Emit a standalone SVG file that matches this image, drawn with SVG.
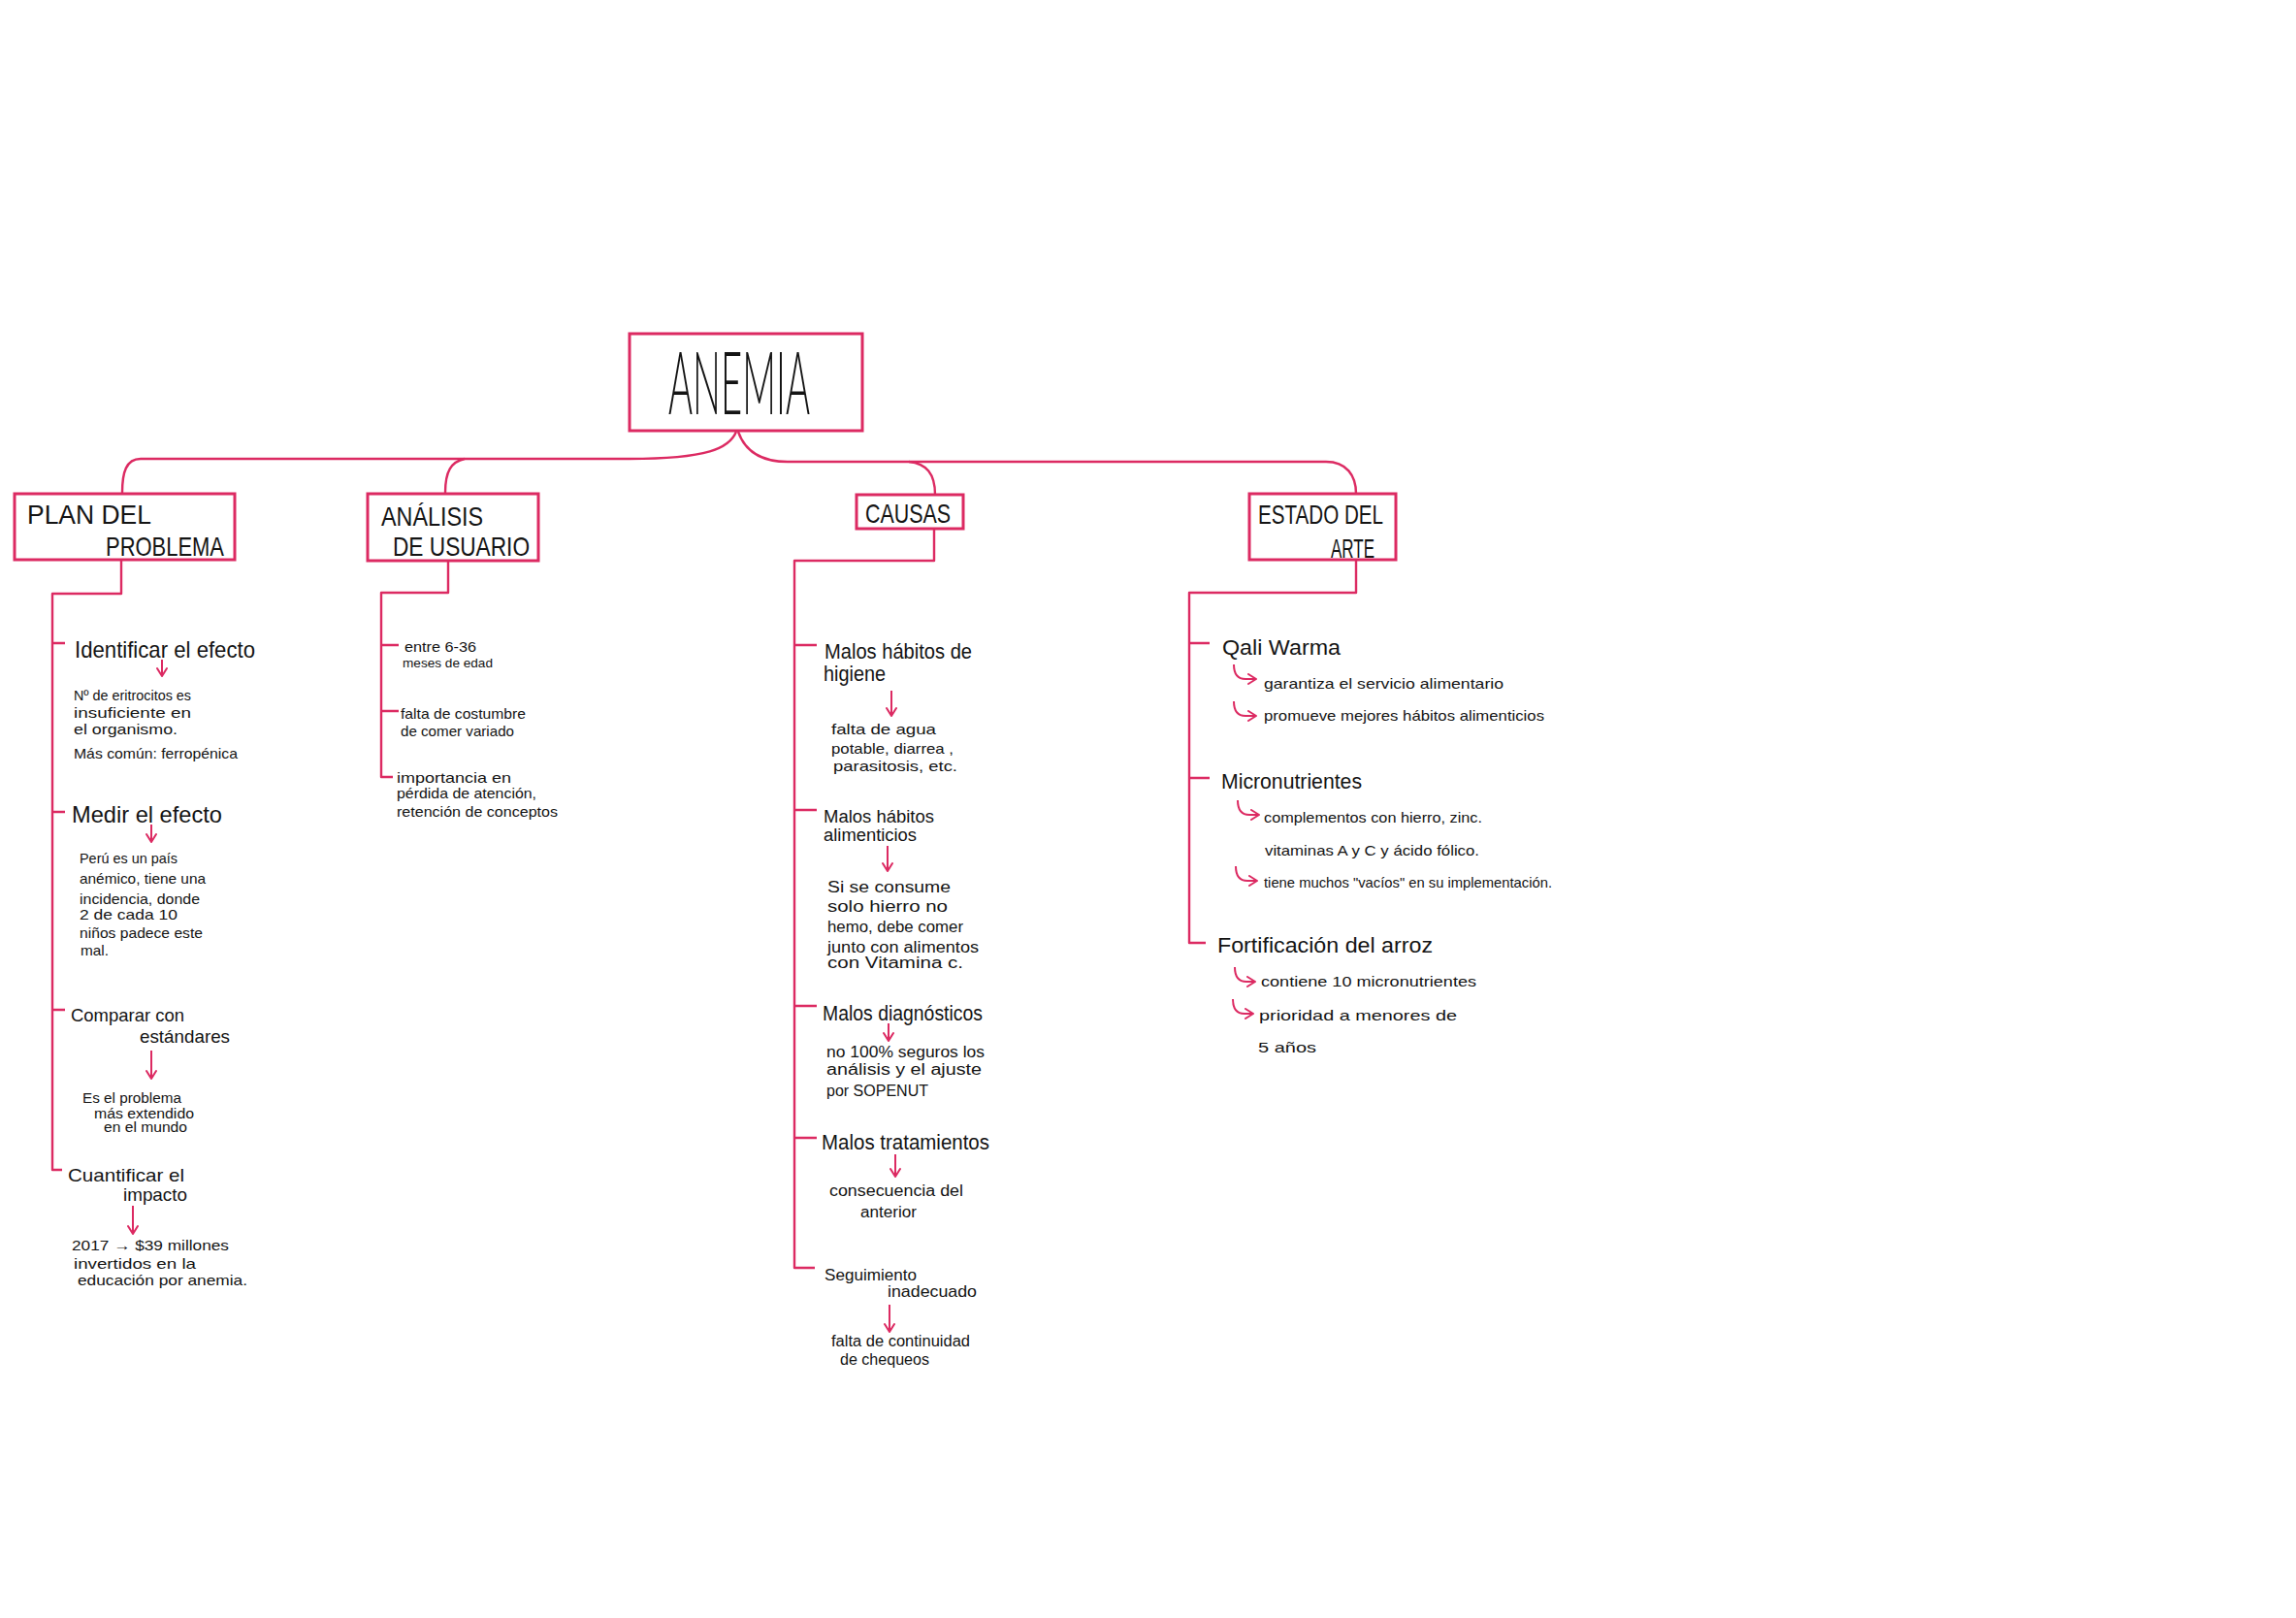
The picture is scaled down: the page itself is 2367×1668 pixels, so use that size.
<svg xmlns="http://www.w3.org/2000/svg" width="2367" height="1668" viewBox="0 0 2367 1668">
<defs>
<marker id="ah" viewBox="0 0 12 12" refX="10" refY="6" markerWidth="12" markerHeight="12" markerUnits="userSpaceOnUse" orient="auto">
<path d="M2,1 L10,6 L2,11" fill="none" stroke="#dc2a62" stroke-width="2" stroke-linecap="round" stroke-linejoin="round"/>
</marker>
<style>
.box{fill:#fff;stroke:#dc2a62;stroke-width:3}
.ln{fill:none;stroke:#dc2a62;stroke-width:2.4;stroke-linejoin:round}
.ar{fill:none;stroke:#dc2a62;stroke-width:2;marker-end:url(#ah)}
text{font-family:"Liberation Sans","DejaVu Sans",sans-serif;fill:#141414}
.t0{font-size:90px;font-family:Lato,"Open Sans","Liberation Sans",sans-serif;font-weight:300}
.t1{font-size:28px}
.t2{font-size:24px}
.t2s{font-size:19px}
.t2b{font-size:22px}
.t2c{font-size:18px}
.t3{font-size:15px}
.t3b{font-size:16px}
</style>
</defs>
<rect width="2367" height="1668" fill="#fff"/>

<g id="connectors">
<path class="ln" d="M759,445 C752,462 730,473 649,473 L145,473 C130,473 126,487 126,508"/>
<path class="ln" d="M479,473 C465,476 459,486 459,508"/>
<path class="ln" d="M761,445 C768,465 785,476 812,476 L1367,476 C1388,476 1398,490 1398,509"/>
<path class="ln" d="M937,476 C955,478 964,488 964,510"/>
<path class="ln" d="M125,577 V612 H54 V1206 H64 M54,663 H67 M54,837 H67 M54,1041 H67"/>
<path class="ln" d="M462,578 V611 H393 V801 H405 M393,665 H411 M393,733 H411"/>
<path class="ln" d="M963,545 V578 H819 V1307 H840 M819,665 H842 M819,835 H842 M819,1037 H842 M819,1173 H842"/>
<path class="ln" d="M1398,577 V611 H1226 V972 H1243 M1226,663 H1247 M1226,802 H1247"/>
<path class="ar" d="M167,680 V697"/>
<path class="ar" d="M156,850 V868"/>
<path class="ar" d="M156,1083 V1112"/>
<path class="ar" d="M137,1243 V1272"/>
<path class="ar" d="M919,712 V738"/>
<path class="ar" d="M915,872 V898"/>
<path class="ar" d="M916,1055 V1073"/>
<path class="ar" d="M923,1190 V1213"/>
<path class="ar" d="M917,1345 V1373"/>
<path class="ar" d="M1272,685 Q1272,700 1284,700 H1295"/>
<path class="ar" d="M1272,723 Q1272,738 1284,738 H1295"/>
<path class="ar" d="M1276,825 Q1276,840 1288,840 H1298"/>
<path class="ar" d="M1274,893 Q1274,908 1286,908 H1296"/>
<path class="ar" d="M1273,997 Q1273,1012 1285,1012 H1294"/>
<path class="ar" d="M1271,1030 Q1271,1045 1283,1045 H1292"/>
</g>

<g id="anemia">
<rect class="box" x="649" y="344" width="240" height="100"/>
<text class="t0" x="689" y="427" textLength="146" lengthAdjust="spacingAndGlyphs">ANEMIA</text>
</g>

<g id="plan-del-problema">
<rect class="box" x="15" y="509" width="227" height="68"/>
<text class="t1" x="28" y="540" textLength="128" lengthAdjust="spacingAndGlyphs">PLAN DEL</text>
<text class="t1" x="109" y="573" textLength="122" lengthAdjust="spacingAndGlyphs">PROBLEMA</text>
</g>

<g id="analisis-de-usuario">
<rect class="box" x="379" y="509" width="176" height="69"/>
<text class="t1" x="393" y="542" textLength="105" lengthAdjust="spacingAndGlyphs">ANÁLISIS</text>
<text class="t1" x="405" y="573" textLength="141" lengthAdjust="spacingAndGlyphs">DE USUARIO</text>
</g>

<g id="causas">
<rect class="box" x="883" y="510" width="110" height="35"/>
<text class="t1" x="892" y="539" textLength="88" lengthAdjust="spacingAndGlyphs">CAUSAS</text>
</g>

<g id="estado-del-arte">
<rect class="box" x="1288" y="509" width="151" height="68"/>
<text class="t1" x="1297" y="540" textLength="129" lengthAdjust="spacingAndGlyphs">ESTADO DEL</text>
<text class="t1" x="1372" y="575" textLength="45" lengthAdjust="spacingAndGlyphs">ARTE</text>
</g>

<g id="identificar">
<text class="t2" x="77" y="678" textLength="186" lengthAdjust="spacingAndGlyphs">Identificar el efecto</text>
<text class="t3" x="76" y="722" textLength="121" lengthAdjust="spacingAndGlyphs">Nº de eritrocitos es</text>
<text class="t3" x="76" y="740" textLength="121" lengthAdjust="spacingAndGlyphs">insuficiente en</text>
<text class="t3" x="76" y="757" textLength="107" lengthAdjust="spacingAndGlyphs">el organismo.</text>
<text class="t3" x="76" y="782" textLength="169" lengthAdjust="spacingAndGlyphs">Más común: ferropénica</text>
</g>

<g id="medir">
<text class="t2" x="74" y="848" textLength="155" lengthAdjust="spacingAndGlyphs">Medir el efecto</text>
<text class="t3" x="82" y="890" textLength="101" lengthAdjust="spacingAndGlyphs">Perú es un país</text>
<text class="t3" x="82" y="911" textLength="130" lengthAdjust="spacingAndGlyphs">anémico, tiene una</text>
<text class="t3" x="82" y="932" textLength="124" lengthAdjust="spacingAndGlyphs">incidencia, donde</text>
<text class="t3" x="82" y="948" textLength="101" lengthAdjust="spacingAndGlyphs">2 de cada 10</text>
<text class="t3" x="82" y="967" textLength="127" lengthAdjust="spacingAndGlyphs">niños padece este</text>
<text class="t3" x="83" y="985" textLength="29" lengthAdjust="spacingAndGlyphs">mal.</text>
</g>

<g id="comparar">
<text class="t2s" x="73" y="1053" textLength="117" lengthAdjust="spacingAndGlyphs">Comparar con</text>
<text class="t2s" x="144" y="1075" textLength="93" lengthAdjust="spacingAndGlyphs">estándares</text>
<text class="t3" x="85" y="1137" textLength="102" lengthAdjust="spacingAndGlyphs" style="font-size:14px">Es el problema</text>
<text class="t3" x="97" y="1153" textLength="103" lengthAdjust="spacingAndGlyphs" style="font-size:14px">más extendido</text>
<text class="t3" x="107" y="1167" textLength="86" lengthAdjust="spacingAndGlyphs" style="font-size:14px">en el mundo</text>
</g>

<g id="cuantificar">
<text class="t2s" x="70" y="1218" textLength="120" lengthAdjust="spacingAndGlyphs">Cuantificar el</text>
<text class="t2s" x="127" y="1238" textLength="66" lengthAdjust="spacingAndGlyphs">impacto</text>
<text class="t3" x="74" y="1289" textLength="162" lengthAdjust="spacingAndGlyphs">2017 → $39 millones</text>
<text class="t3" x="76" y="1308" textLength="126" lengthAdjust="spacingAndGlyphs">invertidos en la</text>
<text class="t3" x="80" y="1325" textLength="175" lengthAdjust="spacingAndGlyphs">educación por anemia.</text>
</g>

<g id="edad">
<text class="t3" x="417" y="672" textLength="74" lengthAdjust="spacingAndGlyphs">entre 6-36</text>
<text class="t3" x="415" y="688" textLength="93" lengthAdjust="spacingAndGlyphs" style="font-size:13px">meses de edad</text>
</g>
<g id="costumbre">
<text class="t3" x="413" y="741" textLength="129" lengthAdjust="spacingAndGlyphs">falta de costumbre</text>
<text class="t3" x="413" y="759" textLength="117" lengthAdjust="spacingAndGlyphs">de comer variado</text>
</g>
<g id="importancia">
<text class="t3" x="409" y="807" textLength="118" lengthAdjust="spacingAndGlyphs">importancia en</text>
<text class="t3" x="409" y="823" textLength="144" lengthAdjust="spacingAndGlyphs">pérdida de atención,</text>
<text class="t3" x="409" y="842" textLength="166" lengthAdjust="spacingAndGlyphs">retención de conceptos</text>
</g>

<g id="higiene">
<text class="t2b" x="850" y="679" textLength="152" lengthAdjust="spacingAndGlyphs">Malos hábitos de</text>
<text class="t2b" x="849" y="702" textLength="64" lengthAdjust="spacingAndGlyphs">higiene</text>
<text class="t3" x="857" y="757" textLength="108" lengthAdjust="spacingAndGlyphs">falta de agua</text>
<text class="t3" x="857" y="777" textLength="126" lengthAdjust="spacingAndGlyphs">potable, diarrea ,</text>
<text class="t3" x="859" y="795" textLength="128" lengthAdjust="spacingAndGlyphs">parasitosis, etc.</text>
</g>
<g id="alimenticios">
<text class="t2c" x="849" y="848" textLength="114" lengthAdjust="spacingAndGlyphs">Malos hábitos</text>
<text class="t2c" x="849" y="867" textLength="96" lengthAdjust="spacingAndGlyphs">alimenticios</text>
<text class="t3b" x="853" y="920" textLength="127" lengthAdjust="spacingAndGlyphs">Si se consume</text>
<text class="t3b" x="853" y="940" textLength="124" lengthAdjust="spacingAndGlyphs">solo hierro no</text>
<text class="t3b" x="853" y="961" textLength="140" lengthAdjust="spacingAndGlyphs">hemo, debe comer</text>
<text class="t3b" x="853" y="982" textLength="156" lengthAdjust="spacingAndGlyphs">junto con alimentos</text>
<text class="t3b" x="853" y="998" textLength="140" lengthAdjust="spacingAndGlyphs">con Vitamina c.</text>
</g>
<g id="diagnosticos">
<text class="t2b" x="848" y="1052" textLength="165" lengthAdjust="spacingAndGlyphs">Malos diagnósticos</text>
<text class="t3b" x="852" y="1090" textLength="163" lengthAdjust="spacingAndGlyphs">no 100% seguros los</text>
<text class="t3b" x="852" y="1108" textLength="160" lengthAdjust="spacingAndGlyphs">análisis y el ajuste</text>
<text class="t3b" x="852" y="1130" textLength="105" lengthAdjust="spacingAndGlyphs">por SOPENUT</text>
</g>
<g id="tratamientos">
<text class="t2b" x="847" y="1185" textLength="173" lengthAdjust="spacingAndGlyphs">Malos tratamientos</text>
<text class="t3b" x="855" y="1233" textLength="138" lengthAdjust="spacingAndGlyphs">consecuencia del</text>
<text class="t3b" x="887" y="1255" textLength="58" lengthAdjust="spacingAndGlyphs">anterior</text>
</g>
<g id="seguimiento">
<text class="t2c" x="850" y="1320" textLength="95" lengthAdjust="spacingAndGlyphs" style="font-size:17px">Seguimiento</text>
<text class="t2c" x="915" y="1337" textLength="92" lengthAdjust="spacingAndGlyphs" style="font-size:17px">inadecuado</text>
<text class="t3b" x="857" y="1388" textLength="143" lengthAdjust="spacingAndGlyphs">falta de continuidad</text>
<text class="t3b" x="866" y="1407" textLength="92" lengthAdjust="spacingAndGlyphs">de chequeos</text>
</g>

<g id="qali-warma">
<text class="t2b" x="1260" y="675" textLength="122" lengthAdjust="spacingAndGlyphs">Qali Warma</text>
<text class="t3" x="1303" y="710" textLength="247" lengthAdjust="spacingAndGlyphs">garantiza el servicio alimentario</text>
<text class="t3" x="1303" y="743" textLength="289" lengthAdjust="spacingAndGlyphs">promueve mejores hábitos alimenticios</text>
</g>
<g id="micronutrientes">
<text class="t2b" x="1259" y="813" textLength="145" lengthAdjust="spacingAndGlyphs">Micronutrientes</text>
<text class="t3" x="1303" y="848" textLength="225" lengthAdjust="spacingAndGlyphs">complementos con hierro, zinc.</text>
<text class="t3" x="1304" y="882" textLength="221" lengthAdjust="spacingAndGlyphs">vitaminas A y C y ácido fólico.</text>
<text class="t3" x="1303" y="915" textLength="297" lengthAdjust="spacingAndGlyphs">tiene muchos "vacíos" en su implementación.</text>
</g>
<g id="fortificacion">
<text class="t2b" x="1255" y="982" textLength="222" lengthAdjust="spacingAndGlyphs">Fortificación del arroz</text>
<text class="t3" x="1300" y="1017" textLength="222" lengthAdjust="spacingAndGlyphs">contiene 10 micronutrientes</text>
<text class="t3" x="1298" y="1052" textLength="204" lengthAdjust="spacingAndGlyphs">prioridad a menores de</text>
<text class="t3" x="1297" y="1085" textLength="60" lengthAdjust="spacingAndGlyphs">5 años</text>
</g>
</svg>
